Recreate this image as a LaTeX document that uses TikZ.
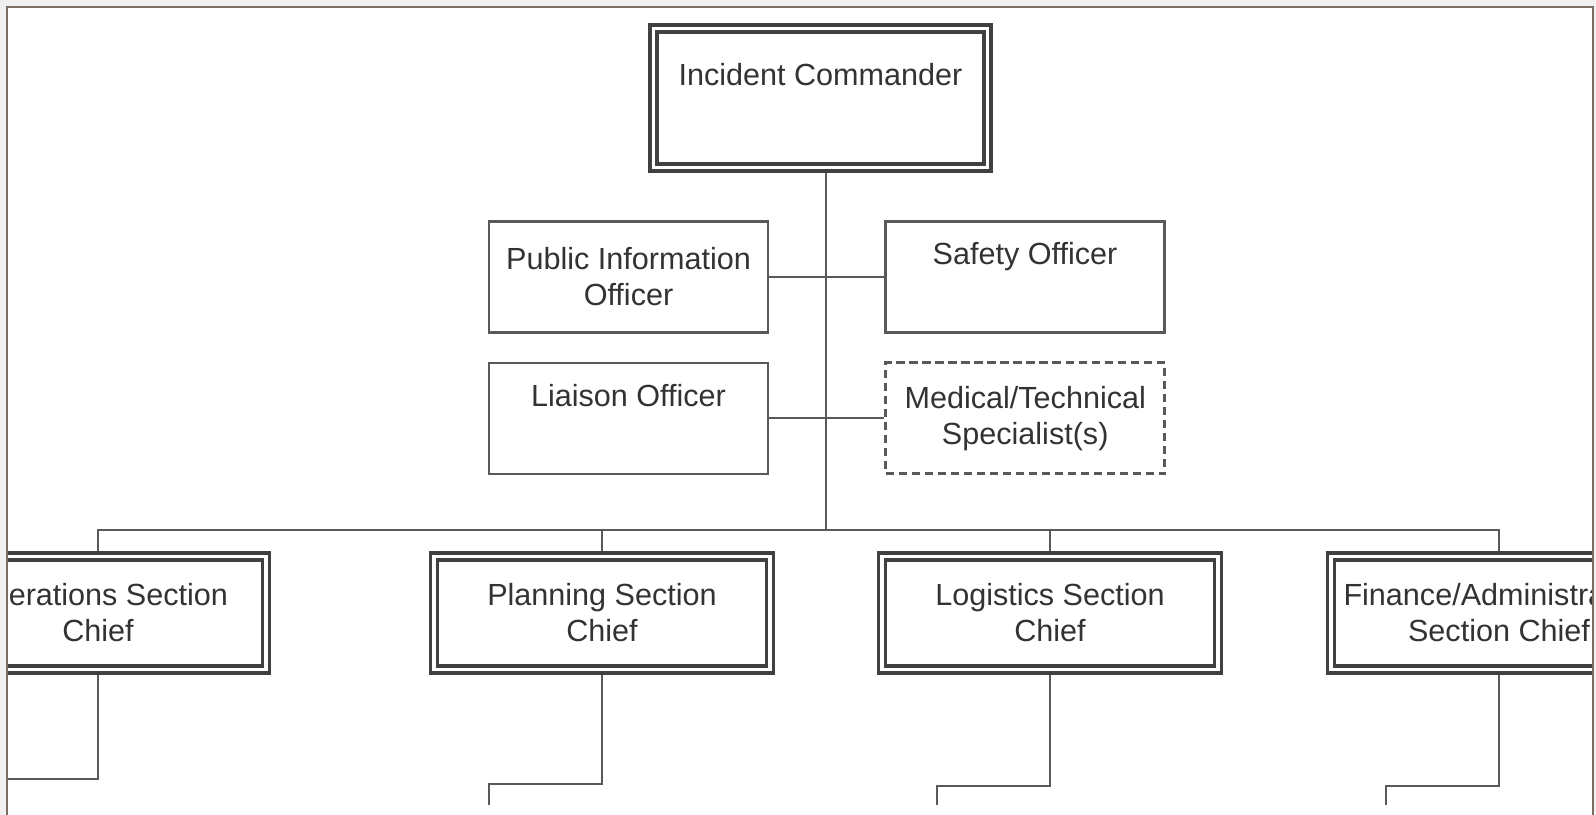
\documentclass[tikz,border=0pt]{standalone}
\usepackage{fontspec}
\setmainfont{Liberation Sans}
\usetikzlibrary{positioning}
\definecolor{framecol}{RGB}{125,108,98}

\begin{document}
\begin{tikzpicture}[font=\fontsize{8.7}{10.2}\selectfont]
        \tikzset{
            officebox/.style = {rectangle, draw=black!65, line width=0.7pt, minimum width=2.79cm, minimum height=1.11cm, align=center, text=black!80, inner sep=0pt},
            specbox/.style = {officebox, line width=0.85pt, dash pattern=on 2.3pt off 1.4pt},
            chiefbox/.style = {rectangle, draw=black!75, line width=1pt, double=white, double distance=1.1pt, outer sep=1.55pt, minimum width=3.36cm, minimum height=1.13cm, align=center, text=black!80, inner sep=0pt},
            conn/.style = {draw=black!65, line width=0.6pt}
        }
        \useasboundingbox (0,0) rectangle (15.96,8.15);
        \fill [gray!12] (0,0) rectangle (15.96,8.15);
        \fill [white] (0.07,0) rectangle (15.93,8.08);

        \begin{scope}
        \clip (0.07,0) rectangle (15.93,8.08);

        % command and staff
        \node (ic) [chiefbox, minimum width=3.34cm, minimum height=1.39cm] at (8.205,7.17) {Incident Commander\\\strut};
        \node (pio) [officebox] at (6.285,5.38) {Public Information\\Officer};
        \node (safety) [officebox, right=1.15cm of pio] {Safety Officer\\\strut};
        \node (liaison) [officebox, below=0.28cm of pio] {Liaison Officer\\\strut};
        \node (medical) [specbox, right=1.15cm of liaison] {Medical/Technical\\Specialist(s)};

        \coordinate (bus) at (8.26,2.85);
        \draw [conn] (ic.south -| bus) -- (bus);
        \draw [conn] (pio) -- (safety);
        \draw [conn] (liaison) -- (medical);

        % section chiefs
        \node (ops) [chiefbox] at (0.98,2.02) {Operations Section\\Chief};
        \node (plan) [chiefbox] at (6.02,2.02) {Planning Section\\Chief};
        \node (logi) [chiefbox] at (10.50,2.02) {Logistics Section\\Chief};
        \node (fin) [chiefbox] at (14.99,2.02) {Finance/Administration\\Section Chief};

        \draw [conn] (ops.north) -- (ops.north |- bus) -- (fin.north |- bus) -- (fin.north);
        \draw [conn] (plan.north) -- (plan.north |- bus);
        \draw [conn] (logi.north) -- (logi.north |- bus);

        \draw [conn] (ops.south) |- ++(-1.2,-1.04);
        \draw [conn] (plan.south) |- ++(-1.13,-1.09) -- ++(0,-0.21);
        \draw [conn] (logi.south) |- ++(-1.13,-1.11) -- ++(0,-0.19);
        \draw [conn] (fin.south) |- ++(-1.13,-1.11) -- ++(0,-0.19);
        \end{scope}

        \draw [framecol, line width=0.45pt] (0.07,0) -- (0.07,8.08) -- (15.93,8.08) -- (15.93,0);
    \end{tikzpicture}
\end{document}
